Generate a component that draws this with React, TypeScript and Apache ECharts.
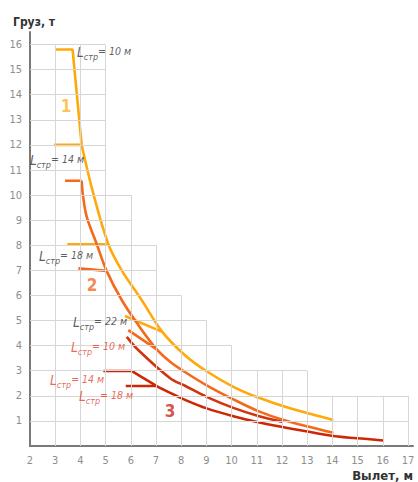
import React, { useEffect, useRef } from "react";
import * as echarts from "echarts";

// Horizontal grid line right-hand extent (x value) for y = 1..16 (staircase grid)
const gridRowLevels = [1, 2, 3, 4, 5, 6, 7, 8, 9, 10, 11, 12, 13, 14, 15, 16];
const gridRowExtents = [17, 17, 13, 10, 9, 8, 7, 7, 6, 6, 5, 5, 5, 5, 5, 5];
const gridColumns = [3, 4, 5, 6, 7, 8, 9, 10, 11, 12, 13, 14, 15, 16, 17];

// Curve 1 (yellow)
const c1Top = [[2.99, 15.8], [3.69, 15.8], [4.05, 12.0]];
const c1Main = [
  [4.05, 12.0], [4.51, 10.07], [5.11, 8.04], [5.64, 7.0], [6.43, 5.82], [7.25, 4.55],
  [8.15, 3.62], [9.01, 2.98], [10.07, 2.36], [11.06, 1.93], [12.32, 1.5], [14.04, 1.04],
];
const c1L14 = [[2.95, 12.0], [4.06, 12.0]];
const c1L18 = [[3.48, 8.04], [5.11, 8.04]];
const c1L22 = [[5.77, 5.18], [7.25, 4.55]];

// Curve 2 (orange)
const c2Top = [[3.39, 10.57], [4.05, 10.57]];
const c2Main = [
  [4.05, 10.57], [4.1, 10.0], [4.25, 9.14], [4.65, 8.04], [5.04, 6.98], [5.64, 5.82],
  [6.3, 4.82], [7.03, 3.85], [7.56, 3.36], [8.15, 2.95], [9.01, 2.42], [10.07, 1.86],
  [11.06, 1.39], [12.06, 1.04], [14.04, 0.53],
];
const c2L18 = [[3.92, 7.08], [5.04, 6.98]];
const c2L10 = [[5.9, 4.62], [7.03, 3.85]];

// Curve 3 (red)
const c3L10 = [
  [5.84, 4.35], [6.3, 3.82], [7.56, 2.7], [8.15, 2.4], [9.01, 1.96], [10.07, 1.52],
  [11.06, 1.2], [12.04, 0.96],
];
const c3L14Top = [[4.91, 2.99], [6.03, 2.99]];
const c3L14 = [
  [6.03, 2.99], [7.03, 2.39], [7.56, 2.12], [8.2, 1.82], [9.01, 1.5], [10.07, 1.19],
  [11.06, 0.95], [12.32, 0.7], [14.04, 0.4], [15.49, 0.27], [16.02, 0.22],
];
const c3L18 = [[5.8, 2.39], [7.03, 2.39]];

// Annotation labels
const boomLabels = [
  { pos: [4.94, 15.66], len: "10", group: 0 },
  { pos: [3.07, 11.35], len: "14", group: 0 },
  { pos: [3.43, 7.53], len: "18", group: 0 },
  { pos: [4.78, 4.9], len: "22", group: 0 },
  { pos: [4.7, 3.9], len: "10", group: 1 },
  { pos: [3.87, 2.59], len: "14", group: 1 },
  { pos: [5.02, 1.95], len: "18", group: 1 },
];
const curveNumbers = [
  { pos: [3.43, 13.55], text: "1", color: "#FBB52E" },
  { pos: [4.46, 6.41], text: "2", color: "#F26A1F" },
  { pos: [7.56, 1.39], text: "3", color: "#C9281B" },
];

const FONT = "'Liberation Sans Narrow', 'DejaVu Sans Condensed', 'Roboto', sans-serif";
const C1 = "#FFA90A";
const C2 = "#F5691A";
const C3A = "#D2340E";
const C3B = "#CC2806";

function lineSeries(data: number[][], color: string, smooth: boolean, width = 2.6) {
  return {
    type: "line",
    data,
    symbol: "none",
    smooth: smooth ? 0.35 : false,
    lineStyle: { color, width, cap: "butt" },
    z: 3,
    silent: true,
  };
}

export default function App() {
  const ref = useRef<HTMLDivElement>(null);
  useEffect(() => {
    if (!ref.current) return;
    const chart = echarts.init(ref.current, undefined, { renderer: "svg" });

    const gridSegs: any[] = [];
    gridRowLevels.forEach((y, i) => {
      gridSegs.push([{ coord: [2, y] }, { coord: [gridRowExtents[i], y] }]);
    });
    gridColumns.forEach((x) => {
      let top = 0;
      gridRowLevels.forEach((y, i) => {
        if (gridRowExtents[i] >= x) top = Math.max(top, y);
      });
      gridSegs.push([{ coord: [x, 0] }, { coord: [x, top] }]);
    });

    const labelData = boomLabels.map((b) => {
      const col = b.group === 0 ? "#333333" : "#E2452B";
      return {
        value: b.pos,
        label: {
          show: true,
          position: "inside",
          formatter: `{l|L}{s|стр}{t|= ${b.len} м}`,
          color: col,
          rich: {
            l: { fontSize: 13.5, fontStyle: "italic", fontFamily: FONT, lineHeight: 16, verticalAlign: "top", color: col },
            s: { fontSize: 9, fontStyle: "italic", fontFamily: FONT, lineHeight: 9, verticalAlign: "bottom", color: col },
            t: { fontSize: 10.5, fontStyle: "italic", fontFamily: FONT, lineHeight: 16, verticalAlign: "top", color: col },
          },
        },
      };
    });
    const numberData = curveNumbers.map((n) => ({
      value: n.pos,
      label: {
        show: true,
        position: "inside",
        formatter: n.text,
        color: n.color,
        fontSize: 17,
        fontWeight: "bold",
        fontFamily: FONT,
      },
    }));

    chart.setOption({
      animation: false,
      backgroundColor: "#ffffff",
      grid: { left: 30, right: 5, top: 32, bottom: 36, containLabel: false, outerBoundsMode: "none" },
      xAxis: {
        type: "value",
        min: 2,
        max: 17.2,
        interval: 1,
        axisLine: { show: true, lineStyle: { color: "#7a7a7a", width: 2 } },
        axisTick: { show: false },
        splitLine: { show: false },
        axisLabel: {
          color: "#8e8e8e",
          fontSize: 11,
          fontFamily: FONT,
          margin: 9,
          formatter: (v: number) => (Number.isInteger(v) ? String(v) : ""),
        },
      },
      yAxis: {
        type: "value",
        min: 0,
        max: 16.5,
        interval: 1,
        axisLine: { show: true, lineStyle: { color: "#7a7a7a", width: 2 } },
        axisTick: { show: false },
        splitLine: { show: false },
        axisLabel: {
          color: "#8e8e8e",
          fontSize: 11,
          fontFamily: FONT,
          margin: 8,
          formatter: (v: number) => (v > 0 && Number.isInteger(v) ? String(v) : ""),
        },
      },
      graphic: [
        {
          type: "text",
          x: 13,
          y: 22,
          style: { text: "Груз, т", fontSize: 12, fontWeight: "bold", fontFamily: FONT, fill: "#333333", verticalAlign: "middle", align: "left" },
        },
        {
          type: "text",
          x: 413,
          y: 475,
          style: { text: "Вылет, м", fontSize: 13, fontWeight: "bold", fontFamily: FONT, fill: "#333333", verticalAlign: "middle", align: "right" },
        },
      ],
      series: [
        {
          type: "line",
          data: [],
          symbol: "none",
          z: 1,
          silent: true,
          markLine: {
            silent: true,
            symbol: ["none", "none"],
            label: { show: false },
            lineStyle: { color: "#d6d6d6", width: 1, type: "solid" },
            emphasis: { disabled: true },
            data: gridSegs,
          },
        },
        lineSeries(c1Top, C1, false),
        lineSeries(c1Main, C1, true),
        lineSeries(c1L14, C1, false),
        lineSeries(c1L18, C1, false),
        lineSeries(c1L22, C1, false),
        lineSeries(c2Top, C2, false),
        lineSeries(c2Main, C2, true),
        lineSeries(c2L18, C2, false),
        lineSeries(c2L10, C2, false),
        lineSeries(c3L10, C3A, true),
        lineSeries(c3L14Top, C3B, false),
        lineSeries(c3L14, C3B, true),
        lineSeries(c3L18, C3B, false),
        {
          type: "scatter",
          data: [...labelData, ...numberData],
          symbolSize: 0,
          clip: false,
          z: 5,
          silent: true,
        },
      ],
    });
    return () => chart.dispose();
  }, []);
  return (
    <div
      ref={ref}
      style={{ position: "absolute", left: 0, top: 0, width: 418, height: 482 }}
    />
  );
}
